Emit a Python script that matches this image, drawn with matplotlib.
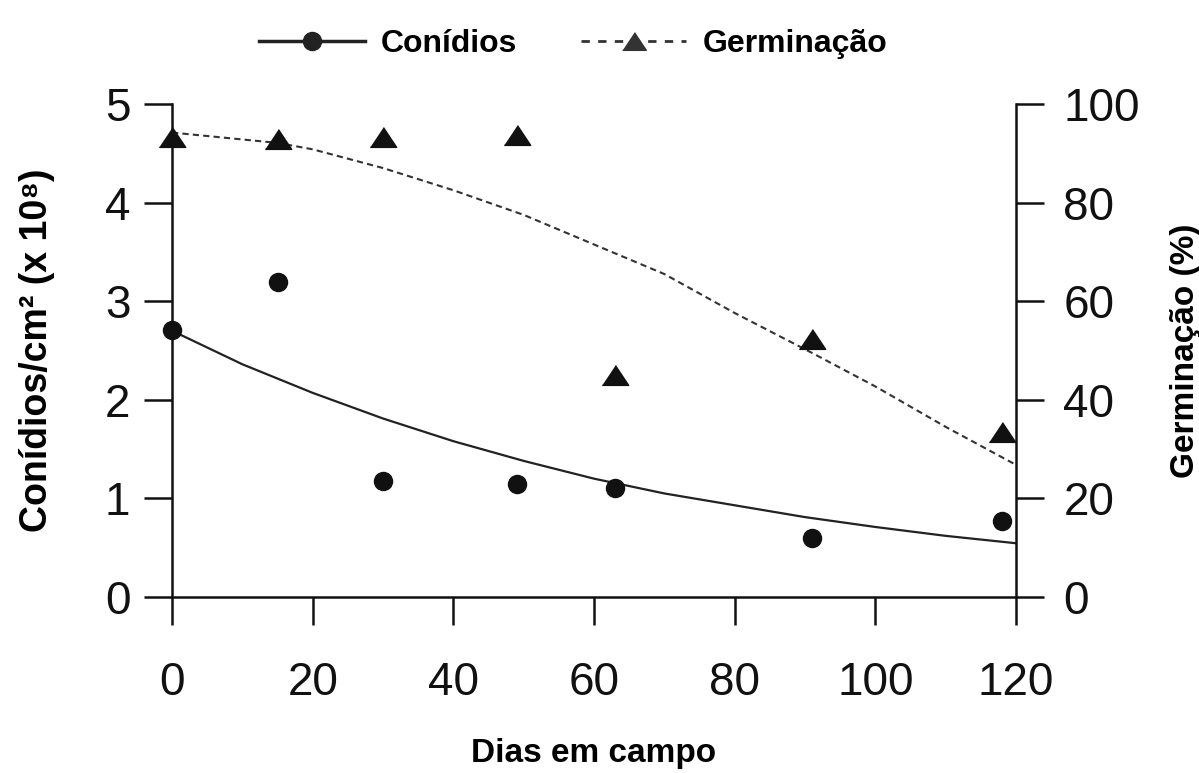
import matplotlib
matplotlib.use("Agg")
import matplotlib.pyplot as plt
from matplotlib import font_manager

# Narrow sans if present, plain Liberation Sans otherwise
available = {f.name for f in font_manager.fontManager.ttflist}
FONT = ["Liberation Sans Narrow"] if "Liberation Sans Narrow" in available else []
FONT += ["Liberation Sans", "DejaVu Sans"]
plt.rcParams["font.family"] = FONT

# --- Observed values ---
days = [0, 15, 30, 49, 63, 91, 118]
conidia = [2.71, 3.19, 1.18, 1.15, 1.11, 0.60, 0.77]          # x 10^8 per cm2
germination = [93.3, 92.8, 93.3, 93.8, 45.0, 52.3, 33.5]      # %

# --- Fitted curves ---
fit_days = [0, 10, 20, 30, 40, 50, 60, 70, 80, 90, 100, 110, 120]
conidia_fit = [2.70, 2.36, 2.07, 1.81, 1.58, 1.38, 1.20, 1.05, 0.93, 0.81, 0.71, 0.62, 0.545]
germ_fit_days = [0, 15, 20, 30, 40, 50, 60, 70, 80, 91, 100, 110, 120]
germ_fit = [94.2, 92.1, 90.8, 87.0, 82.5, 77.5, 71.5, 65.5, 57.6, 49.5, 42.7, 34.5, 26.8]

x_ticks = [0, 20, 40, 60, 80, 100, 120]
left_ticks = [0, 1, 2, 3, 4, 5]
right_ticks = [0, 20, 40, 60, 80, 100]

INK = "#111111"
TRI = [(-1, -0.75), (1, -0.75), (0, 0.75)]

fig = plt.figure(figsize=(11.99, 7.73), dpi=100)
ax = fig.add_axes([0.1435, 0.2277, 0.7039, 0.6378])
ax2 = ax.twinx()

ax.plot(fit_days, conidia_fit, color="#222222", linewidth=1.6, zorder=3)
ax.plot(days, conidia, linestyle="none", marker="o", markersize=13,
        color=INK, clip_on=False, zorder=4)
ax2.plot(germ_fit_days, germ_fit, color="#333333", linewidth=1.5,
         linestyle=(0, (3, 2)), zorder=3)
ax2.plot(days, germination, linestyle="none", marker=TRI, markersize=19,
         color=INK, clip_on=False, zorder=4)

ax.set_xlim(0, 120)
ax.set_ylim(0, 5)
ax2.set_ylim(0, 100)
ax.set_xticks(x_ticks)
ax.set_yticks(left_ticks)
ax2.set_yticks(right_ticks)

for a in (ax, ax2):
    a.spines["top"].set_visible(False)
    for s in a.spines.values():
        s.set_linewidth(1.8)
        s.set_color(INK)
    a.tick_params(direction="out", length=20, width=1.8, color=INK,
                  labelsize=33, labelcolor=INK, pad=10)
ax.spines["right"].set_visible(False)
ax2.spines["left"].set_visible(False)
ax2.spines["bottom"].set_visible(False)
ax.tick_params(axis="x", pad=26)
ax2.tick_params(axis="y", pad=14)

ax.set_xlabel("Dias em campo", fontsize=24, fontweight="bold", labelpad=24)
ax.set_ylabel("Conídios/cm² (x 10⁸)", fontsize=27, fontweight="bold", labelpad=36)
ax2.set_ylabel("Germinação (%)", fontsize=24, fontweight="bold", labelpad=22)

h1 = plt.Line2D([], [], color="#222222", linewidth=2.5, marker="o", markersize=13)
h2 = plt.Line2D([], [], color="#333333", linewidth=2.0, linestyle=(0, (3, 3)),
                marker=TRI, markersize=17)
fig.legend([h1, h2], ["Conídios", "Germinação"], loc="upper center",
           bbox_to_anchor=(0.478, 1.0), ncol=2, frameon=False,
           prop={"size": 23, "weight": "bold"}, handlelength=3.3,
           handletextpad=0.5, columnspacing=2.0)

fig.savefig("out.png", dpi=100)
